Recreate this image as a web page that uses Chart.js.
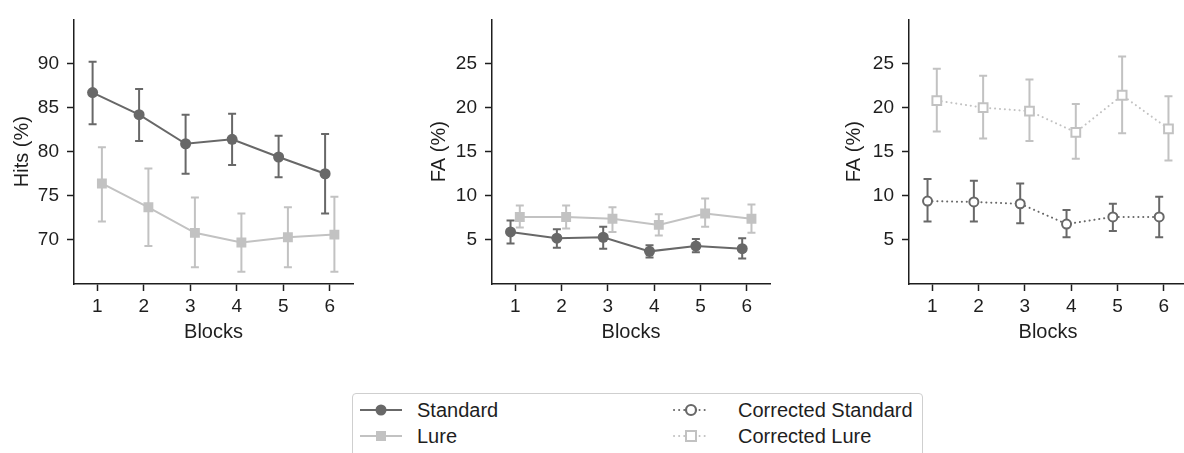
<!DOCTYPE html>
<html>
<head>
<meta charset="utf-8">
<script src="https://cdn.jsdelivr.net/npm/chart.js@4"></script>
<style>
  html, body { margin: 0; padding: 0; background: #fff; }
  #wrap { position: relative; width: 1184px; height: 453px; overflow: hidden; font-family: "Liberation Sans", Arial, sans-serif; }
  .panel { position: absolute; top: 0; }
  #legend { position: absolute; left: 352px; top: 393px; width: 571px; height: 80px;
    border: 1px solid #cfcfcf; border-radius: 4px; box-sizing: border-box; color: #1e1e1e; font-size: 20px; }
  .item { position: absolute; display: flex; align-items: center; height: 26px; }
  .item svg { display: block; }
</style>
</head>
<body>
<div id="wrap">
  <div class="panel" style="left:0px;width:360px;height:350px"><canvas id="hitsChart"></canvas></div>
  <div class="panel" style="left:400px;width:380px;height:350px"><canvas id="faChart"></canvas></div>
  <div class="panel" style="left:800px;width:400px;height:350px"><canvas id="corrChart"></canvas></div>
  <div id="legend"></div>
</div>
<script>
const blocks = [1, 2, 3, 4, 5, 6];

// Hits (%)
const hitsStandard   = [86.7, 84.2, 80.9, 81.4, 79.4, 77.5];
const hitsStandardLo = [83.1, 81.2, 77.5, 78.5, 77.1, 73.0];
const hitsStandardHi = [90.2, 87.1, 84.2, 84.3, 81.8, 82.0];
const hitsLure       = [76.4, 73.7, 70.8, 69.7, 70.3, 70.6];
const hitsLureLo     = [72.1, 69.3, 66.9, 66.4, 66.9, 66.4];
const hitsLureHi     = [80.5, 78.1, 74.8, 73.0, 73.7, 74.9];

// FA (%)
const faStandard   = [5.9, 5.2, 5.3, 3.7, 4.3, 4.0];
const faStandardLo = [4.6, 4.1, 4.0, 3.0, 3.6, 2.9];
const faStandardHi = [7.2, 6.2, 6.5, 4.4, 5.1, 5.2];
const faLure       = [7.6, 7.6, 7.4, 6.7, 8.0, 7.4];
const faLureLo     = [6.4, 6.3, 5.9, 5.5, 6.5, 5.8];
const faLureHi     = [8.9, 8.9, 8.7, 7.9, 9.7, 9.0];

// corrected FA (%)
const corrStandard   = [9.4, 9.3, 9.1, 6.8, 7.6, 7.6];
const corrStandardLo = [7.1, 7.1, 6.9, 5.3, 6.0, 5.3];
const corrStandardHi = [11.9, 11.7, 11.4, 8.4, 9.1, 9.9];
const corrLure       = [20.8, 20.0, 19.6, 17.2, 21.4, 17.6];
const corrLureLo     = [17.3, 16.5, 16.2, 14.2, 17.1, 14.0];
const corrLureHi     = [24.4, 23.6, 23.2, 20.4, 25.8, 21.3];

const hitsTicks = [70, 75, 80, 85, 90];
const faTicks = [5, 10, 15, 20, 25];

const DARK = '#686868';
const LIGHT = '#c2c2c2';
const AXIS = '#1e1e1e';
const FONT = "'Liberation Sans', Arial, sans-serif";

// error bars drawn under the lines/markers
const errorBars = {
  id: 'errorBars',
  beforeDatasetsDraw(chart) {
    const { ctx, scales: { x, y } } = chart;
    ctx.save();
    chart.data.datasets.forEach(ds => {
      if (!ds.lo) return;
      ctx.strokeStyle = ds.barColor;
      ctx.lineWidth = 2;
      ds.data.forEach((p, i) => {
        const px = x.getPixelForValue(p.x);
        const yl = y.getPixelForValue(ds.lo[i]);
        const yh = y.getPixelForValue(ds.hi[i]);
        ctx.beginPath();
        ctx.moveTo(px, yl); ctx.lineTo(px, yh);
        ctx.moveTo(px - 4, yl); ctx.lineTo(px + 4, yl);
        ctx.moveTo(px - 4, yh); ctx.lineTo(px + 4, yh);
        ctx.stroke();
      });
    });
    ctx.restore();
  }
};

function series(values, lo, hi, dodge, color, style) {
  const filled = style.open !== true;
  return {
    data: values.map((v, i) => ({ x: blocks[i] + dodge, y: v })),
    lo: lo, hi: hi, barColor: color,
    borderColor: color,
    borderWidth: 2,
    borderDash: style.dash || [],
    borderCapStyle: style.dash ? 'round' : 'butt',
    pointStyle: style.point,
    pointRadius: style.radius,
    pointBorderWidth: filled ? 0 : 2,
    pointBackgroundColor: filled ? color : '#ffffff',
    pointBorderColor: color,
    tension: 0
  };
}

function makePanel(id, cfg) {
  const ctx = document.getElementById(id).getContext('2d');
  return new Chart(ctx, {
    type: 'line',
    data: { datasets: cfg.datasets },
    plugins: [errorBars],
    options: {
      responsive: true,
      maintainAspectRatio: false,
      animation: false,
      events: [],
      layout: { padding: { left: cfg.padLeft, right: cfg.padRight, top: 13, bottom: 6 } },
      plugins: { legend: { display: false }, tooltip: { enabled: false } },
      scales: {
        x: {
          type: 'linear', min: 0.5, max: 6.5,
          afterBuildTicks: axis => { axis.ticks = blocks.map(v => ({ value: v })); },
          afterFit: s => { s.height = 60; },
          grid: { display: true, drawOnChartArea: false, drawTicks: true, tickLength: 7, tickColor: AXIS, tickWidth: 1.5 },
          border: { display: true, color: AXIS, width: 1.5 },
          ticks: { color: '#1e1e1e', font: { family: FONT, size: 19 }, padding: 4, maxRotation: 0 },
          title: { display: true, text: 'Blocks', color: '#1e1e1e', font: { family: FONT, size: 20 }, padding: 0 }
        },
        y: {
          min: cfg.yMin, max: cfg.yMax,
          afterBuildTicks: axis => { axis.ticks = cfg.ticks.map(v => ({ value: v })); },
          afterFit: s => { s.width = cfg.yWidth; },
          grid: { display: true, drawOnChartArea: false, drawTicks: true, tickLength: 7, tickColor: AXIS, tickWidth: 1.5 },
          border: { display: true, color: AXIS, width: 1.5 },
          ticks: { color: '#1e1e1e', font: { family: FONT, size: 19 }, padding: 8 },
          title: { display: true, text: cfg.yTitle, color: '#1e1e1e', font: { family: FONT, size: 20 }, padding: 0 }
        }
      }
    }
  });
}

const solidCircle = { point: 'circle', radius: 5.5 };
const solidSquare = { point: 'rect', radius: 7 };
const openCircle = { point: 'circle', radius: 4.5, open: true, dash: [0.1, 4.8] };
const openSquare = { point: 'rect', radius: 6.2, open: true, dash: [0.1, 4.8] };

makePanel('hitsChart', {
  yMin: 65, yMax: 95, ticks: hitsTicks, yTitle: 'Hits (%)',
  padLeft: 10, yWidth: 64, padRight: 7,
  datasets: [
    series(hitsLure, hitsLureLo, hitsLureHi, 0.1, LIGHT, solidSquare),
    series(hitsStandard, hitsStandardLo, hitsStandardHi, -0.1, DARK, solidCircle)
  ]
});

makePanel('faChart', {
  yMin: 0, yMax: 30, ticks: faTicks, yTitle: 'FA (%)',
  padLeft: 27, yWidth: 65, padRight: 10,
  datasets: [
    series(faLure, faLureLo, faLureHi, 0.1, LIGHT, solidSquare),
    series(faStandard, faStandardLo, faStandardHi, -0.1, DARK, solidCircle)
  ]
});

makePanel('corrChart', {
  yMin: 0, yMax: 30, ticks: faTicks, yTitle: 'FA (%)',
  padLeft: 42, yWidth: 67, padRight: 13,
  datasets: [
    series(corrLure, corrLureLo, corrLureHi, 0.1, LIGHT, openSquare),
    series(corrStandard, corrStandardLo, corrStandardHi, -0.1, DARK, openCircle)
  ]
});

// legend
const legendItems = [
  { label: 'Standard', color: DARK, marker: 'circle', open: false, dotted: false, left: 6, top: 3 },
  { label: 'Lure', color: LIGHT, marker: 'square', open: false, dotted: false, left: 6, top: 29 },
  { label: 'Corrected Standard', color: DARK, marker: 'circle', open: true, dotted: true, left: 319, top: 3 },
  { label: 'Corrected Lure', color: LIGHT, marker: 'square', open: true, dotted: true, left: 319, top: 29 }
];
const legend = document.getElementById('legend');
legendItems.forEach(it => {
  const w = it.dotted ? 38 : 44;
  const c = w / 2;
  const line = `<line x1="${it.dotted ? 2 : 1}" y1="13" x2="${w - 1}" y2="13" stroke="${it.color}" stroke-width="2"` +
    (it.dotted ? ` stroke-dasharray="0.1 5" stroke-linecap="round"` : '') + '/>';
  let mark;
  if (it.marker === 'circle') {
    mark = it.open
      ? `<circle cx="${c}" cy="13" r="5" fill="#fff" stroke="${it.color}" stroke-width="2.2"/>`
      : `<circle cx="${c}" cy="13" r="5.5" fill="${it.color}"/>`;
  } else {
    mark = it.open
      ? `<rect x="${c - 5}" y="8" width="10" height="10" fill="#fff" stroke="${it.color}" stroke-width="2"/>`
      : `<rect x="${c - 5}" y="8" width="10" height="10" fill="${it.color}"/>`;
  }
  const div = document.createElement('div');
  div.className = 'item';
  div.style.left = it.left + 'px';
  div.style.top = it.top + 'px';
  const gap = it.dotted ? 28 : 14;
  div.innerHTML = `<svg width="${w}" height="26">${line}${mark}</svg><span style="margin-left:${gap}px">${it.label}</span>`;
  legend.appendChild(div);
});
</script>
</body>
</html>
